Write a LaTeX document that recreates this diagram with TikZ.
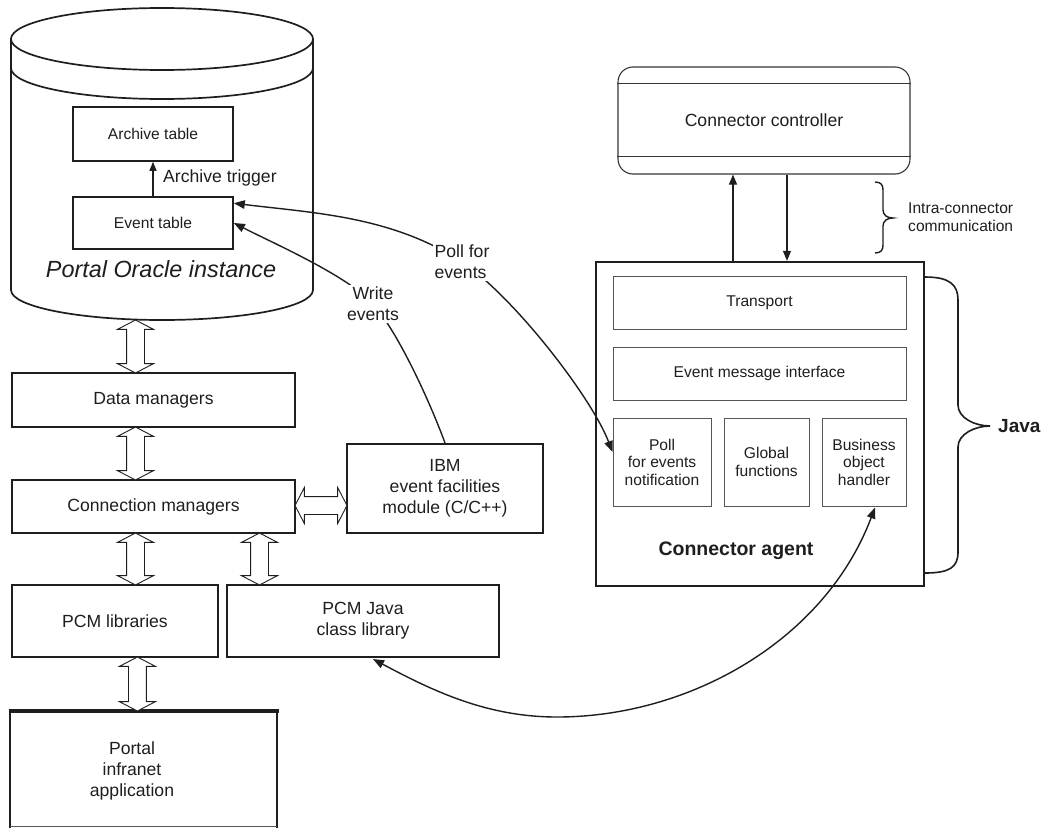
\documentclass[tikz,border=0pt]{standalone}
\usepackage{fontspec}
\setmainfont{Liberation Sans}
\usetikzlibrary{arrows.meta,shapes.arrows,calc}
\definecolor{ink}{HTML}{1E1E1E}
\definecolor{thin}{HTML}{555555}
\begin{document}
\begin{tikzpicture}[x=1pt,y=1pt,yscale=-1,
  font=\fontsize{17.6}{21}\selectfont, text=ink,
  box/.style={draw=ink, line width=2.1pt, rectangle, inner sep=0pt, align=center},
  tbox/.style={draw=ink, line width=1.6pt, rectangle, inner sep=0pt, align=center, font=\fontsize{15.6}{18}\selectfont},
  ibox/.style={draw=thin, line width=1pt, rectangle, inner sep=0pt, align=center, font=\fontsize{15.6}{17.5}\selectfont},
  cyl/.style={draw=ink, line width=1.7pt},
  tri/.style={draw=ink, line width=1.1pt, -{Triangle[length=10pt,width=8pt]}},
  dtri/.style={draw=ink, line width=1.4pt, {Triangle[length=11pt,width=8.5pt]}-{Triangle[length=11pt,width=8.5pt]}},
  wtri/.style={draw=ink, line width=1.4pt, -{Triangle[length=11pt,width=8.5pt]}},
  hdbl/.style={double arrow, draw=ink, line width=0.9pt, fill=white, inner xsep=0pt, inner ysep=8.5pt,
    double arrow head extend=9pt, double arrow tip angle=125, double arrow head indent=0pt, minimum width=0pt},
  brace/.style={draw=ink, line width=1.6pt},
  lbl/.style={fill=white, inner sep=2pt}
]
\useasboundingbox (0,0) rectangle (1043,827);

% ---------- Oracle cylinder ----------
\draw[cyl] (162,39) ellipse [x radius=151, y radius=31];
\draw[cyl] (11,39) -- (11,290) arc[start angle=180, end angle=0, x radius=151, y radius=30] -- (313,39);
\draw[cyl] (11,68) arc[start angle=180, end angle=0, x radius=151, y radius=31];
\coordinate (cylb) at (162,320);

\node[tbox, minimum width=160pt, minimum height=54pt] (arch) at (153,134) {Archive table};
\node[tbox, minimum width=160pt, minimum height=52pt] (evt) at (153,223) {Event table};
\draw[draw=ink, line width=1.1pt, -{Triangle[length=9pt,width=7pt]}] (evt.north) -- (arch.south);
\node[anchor=west, inner sep=0pt] (trig) at (163,178) {Archive trigger};
\node[font=\itshape\fontsize{23.4}{26}\selectfont] (ora) at (161,269) {Portal Oracle instance};

% ---------- left column ----------
\node[box, minimum width=283pt, minimum height=54pt] (dm) at (153.5,400) {Data managers};
\node[box, minimum width=283pt, minimum height=53pt] (cm) at (153.5,506.5) {Connection managers};
\node[box, minimum width=196pt, minimum height=89pt] (ibm) at (445,488.5) {IBM\\event facilities\\module (C/C++)};
\node[box, minimum width=206pt, minimum height=72pt] (pcml) at (115,621) {PCM libraries};
\node[box, minimum width=272pt, minimum height=72pt] (pcmj) at (363,621) {PCM Java\\class library};

% portal application (runs off the page)
\draw[draw=ink, line width=2.4pt] (10,828) -- (10,711) -- (277,711) -- (277,828);
\draw[draw=ink, line width=3.4pt] (8.5,711) -- (278.5,711);
\draw[draw=thin, line width=1pt] (10,826) -- (277,826);
\node[align=center] (portal) at (132,771) {Portal\\infranet\\application};

% hollow double arrows
\node[hdbl, rotate=90, minimum height=53pt] (d1) at (135.5,346.5) {};
\node[hdbl, rotate=90, minimum height=53pt] (d2) at (135.5,453.5) {};
\node[hdbl, rotate=90, minimum height=52pt] (d3) at (135.5,559) {};
\node[hdbl, rotate=90, minimum height=52pt] (d4) at (259.5,559) {};
\node[hdbl, rotate=90, minimum height=54pt] (d5) at (137.4,684) {};
\node[hdbl, minimum height=52pt] (d6) at (321,505.5) {};

% ---------- connector controller ----------
\node[draw=ink!90, line width=1.1pt, rounded corners=15pt, minimum width=292pt, minimum height=107pt, inner sep=0pt] (ctrl) at (764,120.5) {Connector controller};
\draw[draw=ink!90, line width=1.1pt] ($(ctrl.north west)+(0,17)$) -- ($(ctrl.north east)+(0,17)$);
\draw[draw=ink!90, line width=1.1pt] ($(ctrl.south west)+(0,-18)$) -- ($(ctrl.south east)+(0,-18)$);

% ---------- connector agent ----------
\node[draw=ink, line width=2.3pt, minimum width=328pt, minimum height=324pt, inner sep=0pt] (agent) at (760,424) {};
\node[ibox, minimum width=293pt, minimum height=53pt] (trans) at (759.5,302.5) {Transport};
\node[ibox, minimum width=293pt, minimum height=53pt] (emi) at (759.5,373.5) {Event message interface};
\node[ibox, minimum width=98pt, minimum height=88pt] (poll) at (662,462) {Poll\\for events\\notification};
\node[ibox, minimum width=85pt, minimum height=88pt] (glob) at (766.5,462) {Global\\functions};
\node[ibox, minimum width=84pt, minimum height=88pt] (bus) at (864,462) {Business\\object\\handler};
\node[font=\bfseries\fontsize{19.5}{22}\selectfont] (agl) at (736,551) {Connector agent};

\draw[tri] (agent.north -| 733,0) -- (ctrl.south -| 733,0);
\draw[tri] (ctrl.south -| 787,0) -- (agent.north -| 787,0);

% braces
\draw[brace, line width=1.4pt] (875,182) .. controls (881,182) and (883,185) .. (883,190) -- (883,210)
  .. controls (883,215) and (887,218) .. (893,218) .. controls (887,218) and (883,221) .. (883,226)
  -- (883,245) .. controls (883,250) and (881,253) .. (875,253);
\node[anchor=west, align=left, inner sep=0pt, font=\fontsize{15.6}{18}\selectfont] (intra) at (908,217) {Intra-connector\\communication};

\draw[brace] (925,277) .. controls (950,277) and (958,285) .. (958,300) -- (958,405)
  .. controls (958,418) and (975,426) .. (990,426) .. controls (975,426) and (958,434) .. (958,447)
  -- (958,552) .. controls (958,567) and (950,573) .. (925,573);
\node[anchor=west, inner sep=0pt, font=\bfseries\fontsize{19}{22}\selectfont] (java) at (998,426) {Java};

% ---------- curved connectors ----------
\coordinate (pl) at (462,262);
\coordinate (wl) at (373,304);
\coordinate (lowpt) at (557,717);
\draw[dtri] ($(evt.north east)+(0,7)$) .. controls (313,213) and (392,216) .. (pl)
  .. controls (512,295) and (591,396) .. ($(poll.west)+(0,-10)$);
\draw[wtri] (ibm.north -| 445,0) .. controls (430,402) and (398,332) .. (wl)
  .. controls (348,276) and (275,244) .. (evt.east);
\draw[dtri] ($(pcmj.south)+(10,1)$) .. controls (433,691) and (487,717) .. (lowpt)
  .. controls (690,717) and (825,640) .. ($(bus.south)+(11,1)$);

\node[lbl, align=left] (plbl) at (pl) {Poll for\\events};
\node[lbl, align=center] (wlbl) at (wl) {Write\\events};
\end{tikzpicture}
\end{document}
